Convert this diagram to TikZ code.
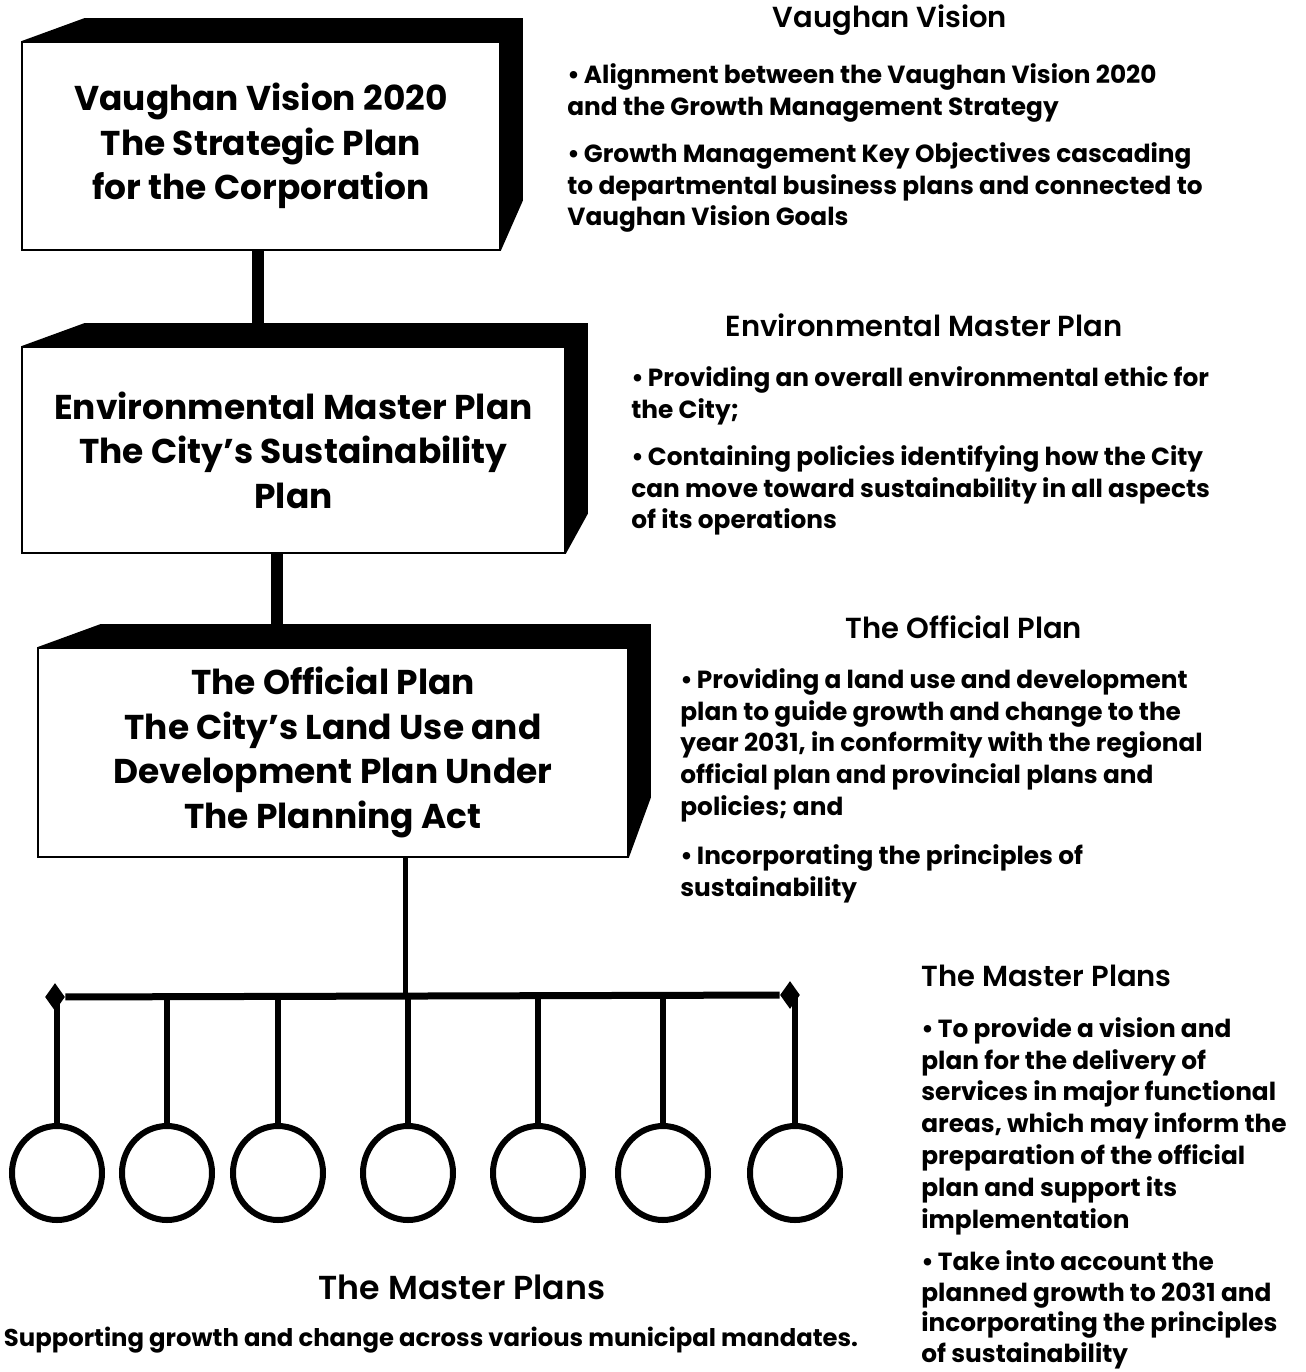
\documentclass[tikz,border=0pt]{standalone}
\usepackage{fontspec}
\setmainfont{Poppins}
\newfontfamily\headfont{Poppins}[UprightFont=* SemiBold]
\usetikzlibrary{positioning, calc, shapes.geometric}

% sizes: 1 unit = 1 pixel = 0.5pt
\tikzset{
  planbox/.style={draw, line width=0.8pt, fill=white, inner sep=0pt,
    align=center, font=\fontsize{17.2}{22.25}\selectfont\bfseries},
  sidehead/.style={inner sep=0pt, font=\fontsize{14.5}{18}\selectfont\headfont},
  sidetext/.style={inner sep=0pt, align=left, anchor=north west,
    font=\fontsize{12.4}{15.9}\selectfont\bfseries},
  link/.style={line width=6pt},
  hublink/.style={line width=2.5pt},
  bar/.style={line width=3.5pt},
  drop/.style={line width=3pt},
  bartip/.style={diamond, fill, inner sep=0pt, minimum width=10pt, minimum height=14pt},
  mplan/.style={ellipse, draw, line width=3pt, inner sep=0pt,
    minimum width=45pt, minimum height=47pt}
}

% black top and right faces of a box
\newcommand\blockfaces[2]{%
  \fill (#1.north west) -- ++(63,-23) -- ($(#1.north east)+(22,-23)$)
    -- ($(#1.south east)+(22,-#2)$) -- (#1.south east) -- (#1.north east) -- cycle;}

\begin{document}
\begin{tikzpicture}[x=0.5pt, y=-0.5pt]
\useasboundingbox (0,0) rectangle (1306,1372);

% --- Plan boxes ---
\node[planbox, minimum width=239pt, minimum height=104pt] (vv) at (261,146)
  {Vaughan Vision 2020\\The Strategic Plan\\for the Corporation};
\node[planbox, minimum width=271.5pt, minimum height=103pt] (emp) at (293.5,450)
  {Environmental Master Plan\\The City's Sustainability\\Plan};
\node[planbox, minimum width=295pt, minimum height=104.5pt] (op) at (333,752.5)
  {The Official Plan\\The City's Land Use and\\Development Plan Under\\The Planning Act};

\blockfaces{vv}{50}
\blockfaces{emp}{40}
\blockfaces{op}{60}

% --- Links between boxes ---
\draw[link] ([xshift=-1.5pt]vv.south) -- ([xshift=-1.5pt]vv.south |- emp.north);
\draw[link] ([xshift=-8.5pt]emp.south) -- ([xshift=-8.5pt]emp.south |- op.north);

% --- Master plans bar ---
\coordinate (hub) at (405,996);
\node[bartip] (barl) at (55,997) {};
\node[bartip] (barr) at (790,995) {};
\draw[hublink] (op.south -| hub) -- (hub);
\draw[bar] (barl) -- (barr);

\foreach \x [count=\i] in {57,167,278,408,538,663,795} {
  \node[mplan] (mp\i) at (\x,1173) {};
  \draw[drop] (mp\i.north |- barl) -- (mp\i.north);
}

\node[font=\fontsize{16.6}{20}\selectfont\headfont] (mptitle) at (462,1287)
  {The Master Plans};
\node[font=\fontsize{12.15}{15}\selectfont\bfseries] (mpnote) at (431,1340)
  {Supporting growth and change across various municipal mandates.};

% --- Side notes ---
\node[sidehead] (vvhead) at (890,20) {Vaughan Vision};
\node[sidetext] (vvnote1) at (567,63)
  {•\,Alignment between the Vaughan Vision 2020\\and the Growth Management Strategy};
\node[sidetext] (vvnote2) at (567,142)
  {•\,Growth Management Key Objectives cascading\\to departmental business plans and connected to\\Vaughan Vision Goals};

\node[sidehead] (emphead) at (924,325) {Environmental Master Plan};
\node[sidetext] (empnote1) at (631,366)
  {•\,Providing an overall environmental ethic for\\the City;};
\node[sidetext] (empnote2) at (631,445)
  {•\,Containing policies identifying how the City\\can move toward sustainability in all aspects\\of its operations};

\node[sidehead] (ophead) at (964,627) {The Official Plan};
\node[sidetext] (opnote1) at (680,668)
  {•\,Providing a land use and development\\plan to guide growth and change to the\\year 2031, in conformity with the regional\\official plan and provincial plans and\\policies; and};
\node[sidetext] (opnote2) at (680,844)
  {•\,Incorporating the principles of\\sustainability};

\node[sidehead, anchor=west] (mphead) at (921,976) {The Master Plans};
\node[sidetext] (mpnote1) at (921,1017)
  {•\,To provide a vision and\\plan for the delivery of\\services in major functional\\areas, which may inform the\\preparation of the official\\plan and support its\\implementation};
\node[sidetext, font=\fontsize{12.4}{15.4}\selectfont\bfseries] (mpnote2) at (921,1250)
  {•\,Take into account the\\planned growth to 2031 and\\incorporating the principles\\of sustainability};

\end{tikzpicture}
\end{document}
